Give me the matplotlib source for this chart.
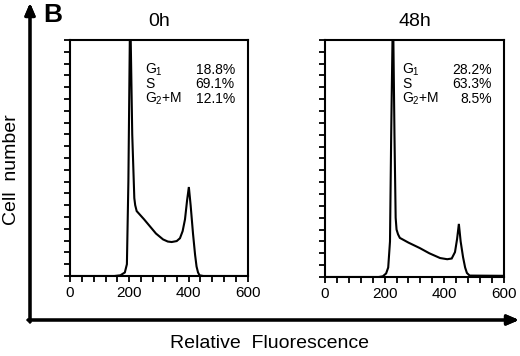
import matplotlib.pyplot as plt
import numpy as np

plt.rcParams['font.family'] = ['Liberation Sans', 'DejaVu Sans']
plt.rcParams['mathtext.fontset'] = 'custom'
plt.rcParams['mathtext.rm'] = 'Liberation Sans'

# histogram traces (x = fluorescence, y = fraction of axis height)
x0h = [0, 150, 170, 185, 192, 197, 203, 210, 217, 220, 225, 250, 270, 290, 314, 330,
       343, 360, 371, 380, 388, 395, 401, 407, 415, 422, 427, 432, 437, 450, 600]
y0h = [0, 0, 0.003, 0.015, 0.05, 0.4, 1.15, 0.6, 0.33, 0.30, 0.275, 0.24, 0.21, 0.18, 0.155, 0.146,
       0.144, 0.148, 0.16, 0.19, 0.24, 0.32, 0.377, 0.30, 0.18, 0.09, 0.04, 0.015, 0.003, 0, 0]

x48h = [0, 180, 194, 205, 212, 218, 222, 228, 233, 237, 240, 245, 251, 280, 318, 350,
        386, 410, 425, 436, 443, 449, 455, 463, 470, 476, 485, 600]
y48h = [0, 0, 0.003, 0.015, 0.04, 0.15, 0.6, 1.15, 0.6, 0.25, 0.2, 0.18, 0.165, 0.145, 0.122, 0.10,
        0.08, 0.075, 0.078, 0.105, 0.16, 0.224, 0.15, 0.084, 0.04, 0.017, 0.006, 0.005]

phases = [r"G$_\mathregular{1}$", "S", r"G$_\mathregular{2}$+M"]
pct0h = ["18.8%", "69.1%", "12.1%"]
pct48h = ["28.2%", "63.3%", "8.5%"]

titles = ["0h", "48h"]
xticklabels = ["0", "200", "400", "600"]

fig = plt.figure(figsize=(5.2, 3.56), dpi=100)
ax1 = fig.add_axes([0.1346, 0.2247, 0.342, 0.663])
ax2 = fig.add_axes([0.625, 0.2219, 0.344, 0.666])

panels = [(ax1, x0h, y0h, pct0h, 253, 556), (ax2, x48h, y48h, pct48h, 258, 560)]
for i, (ax, xs, ys, pct, tx, px) in enumerate(panels):
    ax.plot(xs, ys, '-k', linewidth=1.5, solid_joinstyle='miter')
    ax.set_xlim(0, 600)
    ax.set_ylim(0, 1)
    ax.set_xticks(np.arange(0, 601, 40), minor=True)
    ax.set_xticks([0, 200, 400, 600])
    ax.set_xticklabels(xticklabels, fontsize=11)
    ax.set_yticks(np.arange(0, 1.001, 0.05))
    ax.set_yticklabels([])
    ax.tick_params(axis='both', which='both', direction='out', length=4, width=1.3, pad=3)
    for s in ax.spines.values():
        s.set_linewidth(1.5)
    ax.set_title(titles[i], fontsize=14, pad=10)
    rows = [0.873, 0.814, 0.752]
    for j in range(3):
        ax.text(tx, rows[j], phases[j], fontsize=10, va='center', ha='left')
        ax.text(px, rows[j], pct[j], fontsize=10, va='center', ha='right')

# big outer axis arrows
fig.add_artist(plt.annotate('', xy=(30 / 520, 1 - 3 / 356), xytext=(30 / 520, 1 - 322 / 356),
                            xycoords='figure fraction', textcoords='figure fraction',
                            arrowprops=dict(arrowstyle='-|>,head_length=0.7,head_width=0.3',
                                            color='k', lw=2.2, shrinkA=0, shrinkB=0)))
fig.add_artist(plt.annotate('', xy=(519 / 520, 1 - 320 / 356), xytext=(28 / 520, 1 - 320 / 356),
                            xycoords='figure fraction', textcoords='figure fraction',
                            arrowprops=dict(arrowstyle='-|>,head_length=0.7,head_width=0.3',
                                            color='k', lw=2.2, shrinkA=0, shrinkB=0)))

fig.text(43 / 520, 1 - 15 / 356, "B", fontsize=19, fontweight='bold', va='center', ha='left')
fig.text(12 / 520, 1 - 170 / 356, "Cell  number", fontsize=14, rotation=90, va='center', ha='center')
fig.text(270 / 520, 1 - 343 / 356, "Relative  Fluorescence", fontsize=14, va='center', ha='center')

fig.savefig('out.png', dpi=100)
